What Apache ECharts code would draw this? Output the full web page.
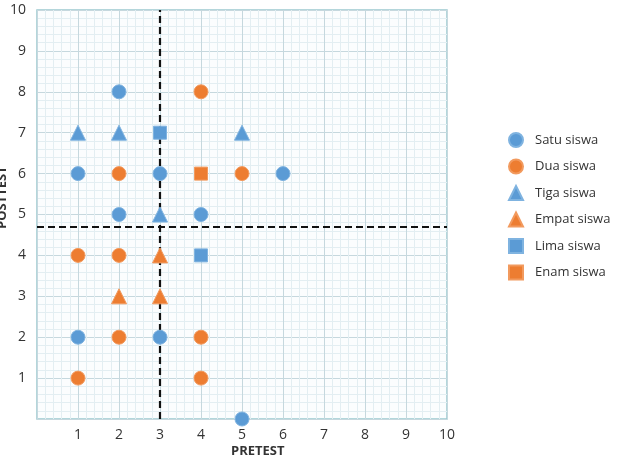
<!DOCTYPE html>
<html><head><meta charset="utf-8">
<script src="https://cdn.jsdelivr.net/npm/echarts@6/dist/echarts.min.js"></script>
<style>html,body{margin:0;padding:0;background:#fff}#c{width:622px;height:460px}</style>
</head><body><div id="c"></div>
<script>
const xTicks = [1,2,3,4,5,6,7,8,9,10];
const yTicks = [1,2,3,4,5,6,7,8,9,10];
const satu  = [[2,8],[1,6],[3,6],[6,6],[2,5],[4,5],[1,2],[3,2],[5,0]];
const dua   = [[4,8],[2,6],[5,6],[1,4],[2,4],[1,1],[2,2],[4,2],[4,1]];
const tiga  = [[1,7],[2,7],[5,7],[3,5]];
const empat = [[3,4],[2,3],[3,3]];
const lima  = [[3,7],[4,4]];
const enam  = [[4,6]];
const cutX = 3, cutY = 4.7;
const names = ['Satu siswa','Dua siswa','Tiga siswa','Empat siswa','Lima siswa','Enam siswa'];
const BLUE = '#5B9BD5', ORANGE = '#ED7D31';

const chart = echarts.init(document.getElementById('c'));
function ser(name, data, symbol, color, size, extra){
  return Object.assign({name, type:'scatter', data, symbol, symbolSize:size,
    itemStyle:{color, borderColor: color==BLUE?'#7fb3e0':'#f29a5e', borderWidth:1, opacity:1}, z:5}, extra||{});
}
const axisCommon = {
  type:'value', min:0, max:10, interval:1,
  axisLine:{show:false}, axisTick:{show:false},
  splitLine:{show:true, lineStyle:{color:'#c6d8de', width:1}},
  minorTick:{show:false, splitNumber:5},
  minorSplitLine:{show:true, lineStyle:{color:'#e3eef2', width:1}},
  axisLabel:{color:'#333', fontFamily:'Open Sans', fontSize:14,
    formatter:v=> v===0 ? '' : String(v)}
};
chart.setOption({
  animation:false,
  backgroundColor:'#fff',
  grid:{left:37, right:175, top:10, bottom:41, show:true, borderColor:'#9cc9d0', borderWidth:1.5, backgroundColor:'#fbfdfe'},
  xAxis:Object.assign({}, axisCommon, {axisLabel:Object.assign({}, axisCommon.axisLabel, {margin:9,
    formatter:v=> xTicks.includes(v) ? String(v) : ''})}),
  yAxis:Object.assign({}, axisCommon, {axisLabel:Object.assign({}, axisCommon.axisLabel, {margin:11,
    formatter:v=> yTicks.includes(v) ? String(v) : ''})}),
  legend:{orient:'vertical', left:503, top:127, itemGap:10.5, itemWidth:14, itemHeight:14,
    textStyle:{color:'#333', fontFamily:'Open Sans', fontSize:13, padding:[0,0,0,7]},
    data:names},
  series:[
    ser(names[0], satu, 'circle', BLUE, 14, {markLine:{silent:true, symbol:'none', label:{show:false},
      lineStyle:{color:'#111', type:[7,4], width:2.2}, data:[{xAxis:cutX},{yAxis:cutY}]}}),
    ser(names[1], dua, 'circle', ORANGE, 14),
    ser(names[2], tiga, 'triangle', BLUE, 15),
    ser(names[3], empat, 'triangle', ORANGE, 15),
    ser(names[4], lima, 'rect', BLUE, 13),
    ser(names[5], enam, 'rect', ORANGE, 13)
  ],
  graphic:[
    {type:'text', left:231, top:445, style:{text:'PRETEST', fill:'#333', font:'bold 13px "Open Sans"'}},
    {type:'text', x:-4, y:229, rotation:Math.PI/2, style:{text:'POSTTEST', fill:'#333', font:'bold 13px "Open Sans"'}}
  ]
});
</script></body></html>
